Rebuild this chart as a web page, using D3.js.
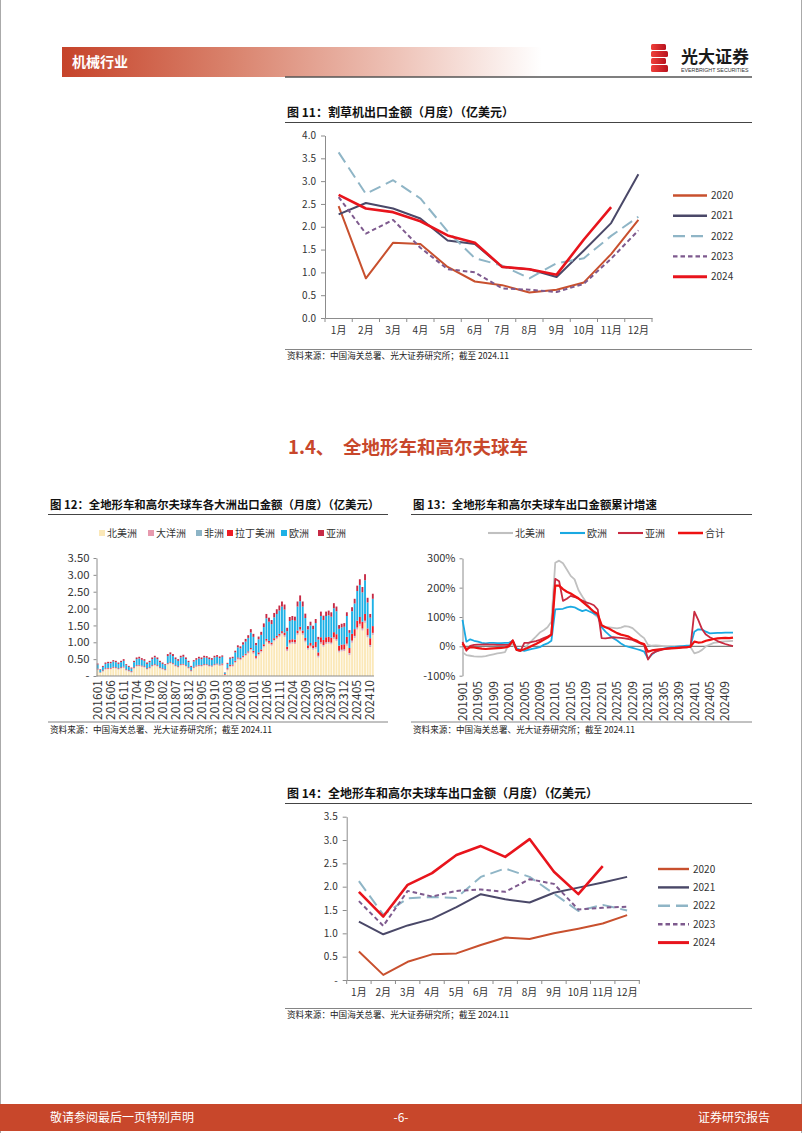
<!DOCTYPE html>
<html><head><meta charset="utf-8">
<script src="https://cdn.jsdelivr.net/npm/d3@7"></script>
<style>
html,body{margin:0;padding:0;background:#fff;}
svg{display:block;font-family:"Noto Sans CJK SC","Noto Sans",sans-serif;}
</style></head><body>
<svg id="page" width="802" height="1133"></svg>
<script>
// ---------- DATA ----------
const monthLabels = ["1月","2月","3月","4月","5月","6月","7月","8月","9月","10月","11月","12月"];
const yearNames = ["2020","2021","2022","2023","2024"];

// Fig 11 mower exports (100m USD)
const mower2020 = [2.45,0.87,1.65,1.62,1.12,0.80,0.72,0.56,0.62,0.78,1.40,2.15];
const mower2021 = [2.27,2.52,2.40,2.18,1.70,1.62,1.12,1.07,0.90,1.48,2.08,3.15];
const mower2022 = [3.63,2.72,3.02,2.62,1.90,1.31,1.15,0.87,1.20,1.31,1.80,2.22];
const mower2023 = [2.65,1.85,2.15,1.54,1.07,1.00,0.65,0.62,0.57,0.75,1.30,1.92];
const mower2024 = [2.70,2.40,2.32,2.12,1.81,1.65,1.12,1.07,0.95,1.72,2.43];

// Fig 14 ATV & golf cart exports
const atv2020 = [0.61,0.11,0.39,0.55,0.57,0.75,0.91,0.88,1.00,1.10,1.21,1.39];
const atv2021 = [1.25,0.98,1.17,1.31,1.56,1.84,1.73,1.66,1.87,1.98,2.09,2.21];
const atv2022 = [2.12,1.40,1.75,1.78,1.76,2.21,2.39,2.21,1.85,1.48,1.61,1.49];
const atv2023 = [1.69,1.16,1.91,1.79,1.91,1.94,1.89,2.16,2.06,1.51,1.55,1.57];
const atv2024 = [1.89,1.36,2.04,2.29,2.68,2.87,2.64,3.02,2.32,1.84,2.44];

// Fig 12 by continent, 201601-202411
const continentNames = ["北美洲","大洋洲","非洲","拉丁美洲","欧洲","亚洲"];
const northAmerica = [
 .18,.09,.13,.19,.20,.20,.23,.22,.19,.22,.24,.16,
 .13,.10,.22,.28,.29,.27,.25,.19,.22,.28,.31,.28,
 .22,.19,.16,.34,.37,.34,.28,.25,.31,.32,.28,.22,
 .13,.23,.27,.29,.28,.31,.31,.28,.27,.31,.33,.30,
 .31,.03,.17,.27,.28,.39,.49,.47,.54,.60,.67,.77,
 .66,.50,.61,.70,.85,1.01,.95,.90,1.03,1.10,1.16,1.24,
 1.16,.74,.94,.96,.95,1.22,1.33,1.22,1.00,.78,.85,.78,
 .81,.55,.95,.87,.95,.96,.94,1.10,1.04,.70,.73,.74,
 .90,.62,.99,1.13,1.38,1.49,1.35,1.58,1.15,.86,1.22];
const oceania = [
 .01,.01,.01,.01,.01,.01,.01,.01,.01,.01,.01,.01,
 .01,.01,.01,.01,.01,.01,.01,.01,.01,.01,.01,.01,
 .01,.01,.01,.01,.01,.01,.01,.01,.01,.01,.01,.01,
 .01,.01,.01,.01,.01,.01,.01,.01,.01,.01,.01,.01,
 .02,.01,.02,.02,.02,.02,.02,.02,.02,.02,.02,.02,
 .03,.03,.03,.03,.03,.03,.03,.03,.03,.03,.03,.03,
 .03,.03,.03,.03,.03,.03,.03,.03,.03,.03,.03,.03,
 .03,.03,.03,.03,.03,.03,.03,.03,.03,.03,.03,.03,
 .04,.04,.04,.04,.04,.04,.04,.04,.04,.04,.04];
const africa = [
 .01,.00,.01,.01,.01,.01,.01,.01,.01,.01,.01,.01,
 .01,.01,.01,.01,.01,.01,.01,.01,.01,.01,.01,.01,
 .01,.01,.01,.01,.01,.01,.01,.01,.01,.01,.01,.01,
 .01,.01,.01,.01,.01,.01,.01,.01,.01,.01,.01,.01,
 .01,.00,.01,.01,.01,.01,.01,.01,.01,.01,.01,.01,
 .01,.01,.01,.01,.01,.01,.01,.01,.01,.01,.01,.01,
 .02,.02,.02,.02,.02,.02,.02,.02,.02,.02,.02,.02,
 .02,.02,.02,.02,.02,.02,.02,.02,.02,.02,.02,.02,
 .02,.02,.02,.02,.02,.02,.02,.02,.02,.02,.02];
const latinAmerica = [
 .02,.01,.02,.02,.02,.02,.02,.02,.02,.02,.02,.02,
 .02,.02,.02,.02,.02,.02,.02,.02,.02,.02,.02,.02,
 .02,.02,.02,.02,.02,.02,.02,.02,.02,.02,.02,.02,
 .02,.02,.02,.02,.02,.02,.02,.02,.02,.02,.02,.02,
 .03,.02,.03,.03,.03,.03,.03,.03,.03,.03,.03,.03,
 .05,.05,.05,.05,.05,.05,.05,.05,.05,.05,.05,.05,
 .08,.08,.08,.08,.08,.08,.08,.08,.08,.08,.08,.08,
 .15,.10,.15,.15,.15,.15,.15,.15,.15,.15,.15,.15,
 .20,.15,.20,.20,.20,.20,.20,.20,.20,.20,.20];
const europe = [
 .12,.07,.10,.13,.14,.14,.16,.15,.13,.15,.17,.12,
 .10,.08,.15,.18,.19,.17,.16,.13,.15,.18,.20,.18,
 .15,.13,.12,.21,.23,.21,.18,.16,.20,.21,.18,.15,
 .10,.16,.17,.19,.18,.20,.19,.18,.17,.20,.20,.19,
 .20,.04,.13,.18,.19,.25,.30,.29,.33,.36,.40,.46,
 .41,.32,.39,.43,.51,.61,.57,.55,.62,.65,.69,.73,
 .68,.46,.56,.57,.56,.71,.76,.71,.59,.47,.52,.48,
 .56,.38,.63,.59,.63,.64,.62,.71,.68,.50,.51,.52,
 .62,.45,.67,.76,.88,.95,.87,1.00,.77,.61,.81];
const asia = [
 .03,.02,.03,.04,.04,.04,.04,.04,.04,.04,.05,.03,
 .03,.03,.04,.05,.05,.05,.05,.04,.04,.05,.05,.05,
 .04,.04,.03,.06,.06,.06,.05,.05,.05,.06,.05,.04,
 .03,.04,.05,.05,.05,.05,.05,.05,.05,.05,.05,.05,
 .04,.01,.03,.04,.04,.05,.06,.06,.07,.08,.08,.10,
 .09,.07,.08,.09,.11,.13,.12,.12,.13,.14,.15,.15,
 .15,.10,.12,.12,.12,.15,.17,.15,.13,.10,.11,.10,
 .12,.08,.13,.13,.13,.14,.13,.15,.14,.11,.11,.11,
 .11,.08,.12,.14,.16,.17,.16,.18,.14,.11,.15];
const barTickLabels = ["201601","201606","201611","201704","201709","201802","201807","201812","201905","201910",
 "202003","202008","202101","202106","202111","202204","202209","202302","202307","202312","202405","202410"];

// Fig 13 cumulative growth (%), 201901-202411
const growthNames = ["北美洲","欧洲","亚洲","合计"];
const growthNA = [
 -20,-30,-32,-34,-35,-35,-33,-30,-27,-24,-22,-20,
 7,8,-12,-16,-10,8,20,33,47,55,65,84,
 285,292,283,262,240,228,192,170,150,128,110,100,
 67,66,65,63,61,64,69,67,62,50,38,28,
 5,2,3,2,1,0,0,0,-1,-1,-2,-2,
 -24,-20,-12,0,6,12,14,16,17,18,19];
const growthEU = [
 90,16,24,19,16,12,10,12,12,11,11,12,
 12,19,-7,-12,-15,-12,-9,-6,-3,5,10,19,
 126,127,128,133,135,133,126,120,124,118,112,105,
 65,50,38,28,20,10,2,-2,-5,-9,-13,-18,
 -42,-28,-18,-12,-8,-5,-3,-2,0,1,2,2,
 50,58,57,50,44,45,46,46,47,47,47];
const growthAS = [
 15,-15,2,5,6,6,7,6,6,5,5,5,
 5,20,-12,-16,12,12,15,18,22,28,33,40,
 230,222,155,162,172,168,162,156,150,146,140,125,
 28,27,29,31,30,29,27,25,22,16,10,5,
 -45,-25,-18,-14,-10,-8,-6,-5,-4,-3,-3,-2,
 118,90,58,40,31,25,18,13,8,4,1];
const growthTotal = [
 10,-10,-3,-4,-6,-8,-9,-8,-7,-6,-5,-4,
 0,20,-12,-14,-10,-5,2,8,15,22,30,40,
 207,207,195,186,180,172,164,152,141,130,118,110,
 72,65,60,52,45,40,37,33,25,20,12,8,
 -18,-14,-12,-10,-9,-8,-7,-6,-5,-4,-3,-1,
 16,13,14,19,22,25,27,28,29,28,30];
const growthTickLabels = ["201901","201905","201909","202001","202005","202009","202101","202105","202109",
 "202201","202205","202209","202301","202305","202309","202401","202405","202409"];

// month category codes
function monthCodes(startYear, count){
  const out=[]; for(let k=0;k<count;k++){const yy=startYear+Math.floor(k/12), mm=k%12+1; out.push(yy+String(mm).padStart(2,"0"));} return out;
}
const barMonths = monthCodes(2016, northAmerica.length);
const growthMonths = monthCodes(2019, growthTotal.length);

// ---------- DRAW ----------
const svg = d3.select("#page");
const RED = "#c8472b";
const AX = "#8c8c8c";
const TXT = "#333";

// page borders
svg.append("line").attr("x1",0.5).attr("x2",0.5).attr("y1",0).attr("y2",1133).attr("stroke","#aaa");
svg.append("line").attr("x1",801.5).attr("x2",801.5).attr("y1",0).attr("y2",1133).attr("stroke","#aaa");

// header
const defs = svg.append("defs");
const hg = defs.append("linearGradient").attr("id","hdr").attr("x1","0").attr("x2","1").attr("y1","0").attr("y2","0");
hg.append("stop").attr("offset","0").attr("stop-color","#c6432a");
hg.append("stop").attr("offset","0.35").attr("stop-color","#d9826c");
hg.append("stop").attr("offset","0.7").attr("stop-color","#eec3b8");
hg.append("stop").attr("offset","1").attr("stop-color","#ffffff");
svg.append("rect").attr("x",62).attr("y",47).attr("width",480).attr("height",30).attr("fill","url(#hdr)");
svg.append("text").attr("x",72).attr("y",67).attr("fill","#fff").attr("font-size",14).attr("font-weight","bold").text("机械行业");
// logo
const lg = defs.append("linearGradient").attr("id","logo").attr("x1","0").attr("x2","1");
lg.append("stop").attr("offset","0").attr("stop-color","#f0403a");
lg.append("stop").attr("offset","1").attr("stop-color","#b8121e");
const logo = svg.append("g");
[[44,6],[51,6],[58,6],[65,7]].forEach(([yy,h],k)=>{
  logo.append("rect").attr("x",651).attr("y",yy).attr("width",k%2?17:15).attr("height",h).attr("rx",1.5).attr("fill","url(#logo)");
});
svg.append("text").attr("x",681).attr("y",63).attr("font-size",17).attr("font-weight","bold").attr("fill","#1a1a1a").text("光大证券");
svg.append("text").attr("x",681).attr("y",71.5).attr("font-size",5.3).attr("fill","#333").attr("font-family","Liberation Sans, sans-serif").text("EVERBRIGHT SECURITIES");
svg.append("line").attr("x1",285).attr("x2",752).attr("y1",77).attr("y2",77).attr("stroke","#555").attr("stroke-width",1.6);

// footer
svg.append("rect").attr("x",0).attr("y",1104).attr("width",802).attr("height",27).attr("fill",RED);
svg.append("text").attr("x",50).attr("y",1122).attr("fill","#fff").attr("font-size",12).text("敬请参阅最后一页特别声明");
svg.append("text").attr("x",401).attr("y",1122).attr("fill","#fff").attr("font-size",12).attr("text-anchor","middle").text("-6-");
svg.append("text").attr("x",770).attr("y",1122).attr("fill","#fff").attr("font-size",12).attr("text-anchor","end").text("证券研究报告");

function titleBlock(x, x2, yTitle, yLine, text, fs){
  svg.append("text").attr("x",x).attr("y",yTitle).attr("font-size",fs).attr("font-weight","bold").attr("fill","#111").text(text);
  svg.append("line").attr("x1",x-2).attr("x2",x2).attr("y1",yLine).attr("y2",yLine).attr("stroke","#444").attr("stroke-width",1);
}
function sourceBlock(x, x2, yLine, yText){
  svg.append("line").attr("x1",x-2).attr("x2",x2).attr("y1",yLine).attr("y2",yLine).attr("stroke","#666").attr("stroke-width",0.8);
  svg.append("text").attr("x",x).attr("y",yText).attr("font-size",8.6).attr("fill","#222").text("资料来源：中国海关总署、光大证券研究所；截至 2024.11");
}
function styleAxis(g, fs){
  g.select(".domain").attr("stroke",AX);
  g.selectAll(".tick line").attr("stroke",AX);
  g.selectAll(".tick text").attr("font-size",fs).attr("fill",TXT).attr("font-family",'"Noto Sans CJK SC",sans-serif');
}

const yearColors = ["#c8502e","#4a4868","#8fb5c6","#7e5a8e","#e8141c"];
const yearDash = [null,null,"12,6","4.5,3",null];
const yearWidth = [2,2,2,2,2.6];

function lineChart(cfg){
  const g = svg.append("g");
  const x = d3.scaleBand().domain(monthLabels).range([cfg.x0,cfg.x1]);
  const y = d3.scaleLinear().domain([0,cfg.ymax]).range([cfg.yb,cfg.yt]);
  const ya = g.append("g").attr("transform",`translate(${cfg.x0},0)`)
    .call(d3.axisLeft(y).tickValues(cfg.yticks).tickSize(4).tickPadding(5).tickFormat(cfg.yfmt).tickSizeOuter(0));
  styleAxis(ya, cfg.fs);
  const xa = g.append("g").attr("transform",`translate(0,${cfg.yb})`)
    .call(d3.axisBottom(x).tickSize(0).tickPadding(cfg.xpad).tickSizeOuter(0));
  styleAxis(xa, cfg.fs);
  const bounds = monthLabels.map(m=>x(m)).concat([x.range()[1]]);
  g.selectAll(".bt").data(bounds).enter().append("line")
    .attr("x1",d=>d).attr("x2",d=>d).attr("y1",cfg.yb).attr("y2",cfg.yb+4).attr("stroke",AX);
  const line = d3.line().x((d,i)=>x(monthLabels[i])+x.bandwidth()/2).y(d=>y(d));
  cfg.series.forEach((s,k)=>{
    g.append("path").attr("d",line(s)).attr("fill","none").attr("stroke",yearColors[k])
      .attr("stroke-width",yearWidth[k]).attr("stroke-dasharray",yearDash[k]).attr("stroke-linejoin","round");
  });
  yearNames.forEach((n,k)=>{
    const ly = cfg.ly0 + k*cfg.ldy;
    g.append("line").attr("x1",cfg.lx0).attr("x2",cfg.lx1).attr("y1",ly).attr("y2",ly)
      .attr("stroke",yearColors[k]).attr("stroke-width",yearWidth[k]+0.4).attr("stroke-dasharray",yearDash[k]);
    g.append("text").attr("x",cfg.lx1+4).attr("y",ly).attr("dy","0.35em").attr("font-size",cfg.fs).attr("fill",TXT).text(n);
  });
}

// Figure 11
titleBlock(287, 752, 116.5, 122.5, "图 11：割草机出口金额（月度）（亿美元）", 12);
lineChart({x0:325,x1:652,yb:318,yt:135.5,ymax:4,yticks:d3.range(0,4.01,0.5),yfmt:d3.format(".1f"),
  fs:10,xpad:9,series:[mower2020,mower2021,mower2022,mower2023,mower2024],lx0:673,lx1:707,ly0:195.5,ldy:20.3});
sourceBlock(287, 752, 349.5, 359);

// section heading
svg.append("text").attr("x",288).attr("y",454).attr("font-size",18.5).attr("font-weight","bold").attr("fill",RED).text("1.4、");
svg.append("text").attr("x",343).attr("y",454).attr("font-size",18.5).attr("font-weight","bold").attr("fill",RED).text("全地形车和高尔夫球车");

// Figure 12
titleBlock(50, 388, 508.5, 514.5, "图 12：全地形车和高尔夫球车各大洲出口金额（月度）（亿美元）", 11.4);
(function(){
  const colors = ["#fbe8b8","#e79aae","#8db4c6","#ee1c24","#1eb1e6","#c72a45"];
  const series = [northAmerica,oceania,africa,latinAmerica,europe,asia];
  const keys = continentNames;
  const rows = barMonths.map((m,i)=>{const r={m}; keys.forEach((k,j)=>r[k]=series[j][i]); return r;});
  const stack = d3.stack().keys(keys)(rows);
  const x = d3.scaleBand().domain(barMonths).range([96.5,374]).paddingInner(0.28).paddingOuter(0.1);
  const y = d3.scaleLinear().domain([0,3.5]).range([676,558]);
  const g = svg.append("g");
  stack.forEach((layer,j)=>{
    g.append("g").selectAll("rect").data(layer).enter().append("rect")
      .attr("x",d=>x(d.data.m)).attr("width",x.bandwidth())
      .attr("y",d=>y(d[1])).attr("height",d=>Math.max(0,y(d[0])-y(d[1]))).attr("fill",colors[j]);
  });
  const ya = g.append("g").attr("transform","translate(96.5,0)")
    .call(d3.axisLeft(y).tickValues(d3.range(0,3.51,0.5)).tickSize(3).tickPadding(4).tickSizeOuter(0)
      .tickFormat(d=>d===0?"-":d3.format(".2f")(d)));
  styleAxis(ya, 11.3);
  g.append("line").attr("x1",96.5).attr("x2",374).attr("y1",676).attr("y2",676).attr("stroke",AX);
  g.selectAll(".xl").data(barTickLabels).enter().append("text")
    .attr("transform",d=>`translate(${x(d)+x.bandwidth()/2},680) rotate(-90)`)
    .attr("text-anchor","end").attr("dy","0.35em").attr("font-size",12).attr("fill",TXT).text(d=>d);
  // legend
  const lx = [99,148,196,227,281,318];
  keys.forEach((k,j)=>{
    g.append("rect").attr("x",lx[j]).attr("y",530).attr("width",6).attr("height",6).attr("fill",colors[j]);
    g.append("text").attr("x",lx[j]+8).attr("y",533).attr("dy","0.35em").attr("font-size",10).attr("fill",TXT).text(k);
  });
})();
sourceBlock(50, 388, 722, 732.5);

// Figure 13
titleBlock(413, 752, 508.5, 514.5, "图 13：全地形车和高尔夫球车出口金额累计增速", 11.4);
(function(){
  const colors = ["#c0c0c0","#1aa9e2","#c92a40","#ee1111"];
  const widths = [1.8,1.8,1.8,2.2];
  const series = [growthNA,growthEU,growthAS,growthTotal];
  const x = d3.scalePoint().domain(growthMonths).range([462.5,733]);
  const y = d3.scaleLinear().domain([-100,300]).range([675.7,558.3]);
  const g = svg.append("g");
  const ya = g.append("g").attr("transform","translate(462.5,0)")
    .call(d3.axisLeft(y).tickValues([-100,0,100,200,300]).tickSize(3).tickPadding(4).tickSizeOuter(0).tickFormat(d=>d+"%"));
  styleAxis(ya, 11);
  g.append("line").attr("x1",462.5).attr("x2",733).attr("y1",y(0)).attr("y2",y(0)).attr("stroke","#7f7f7f").attr("stroke-width",1.2);
  const line = d3.line().x((d,i)=>x(growthMonths[i])).y(d=>y(d)).curve(d3.curveLinear);
  series.forEach((s,k)=>{
    g.append("path").attr("d",line(s)).attr("fill","none").attr("stroke",colors[k]).attr("stroke-width",widths[k]).attr("stroke-linejoin","round");
  });
  g.selectAll(".xl").data(growthTickLabels).enter().append("text")
    .attr("transform",d=>`translate(${x(d)},681) rotate(-90)`)
    .attr("text-anchor","end").attr("dy","0.35em").attr("font-size",12).attr("fill",TXT).text(d=>d);
  const lx = [488,560,618,678];
  growthNames.forEach((n,k)=>{
    g.append("line").attr("x1",lx[k]).attr("x2",lx[k]+25).attr("y1",533).attr("y2",533).attr("stroke",colors[k]).attr("stroke-width",widths[k]+0.3);
    g.append("text").attr("x",lx[k]+27).attr("y",533).attr("dy","0.35em").attr("font-size",10).attr("fill",TXT).text(n);
  });
})();
sourceBlock(413, 752, 722, 732.5);

// Figure 14
titleBlock(287, 752, 797.5, 803.5, "图 14：全地形车和高尔夫球车出口金额（月度）（亿美元）", 12);
lineChart({x0:346.7,x1:639.3,yb:980,yt:816.7,ymax:3.5,yticks:d3.range(0,3.51,0.5),yfmt:d=>d===0?"-":d3.format(".1f")(d),
  fs:10,xpad:9,series:[atv2020,atv2021,atv2022,atv2023,atv2024],lx0:658,lx1:689,ly0:869,ldy:18.4});
sourceBlock(287, 752, 1008.5, 1018);
</script>
</body></html>
